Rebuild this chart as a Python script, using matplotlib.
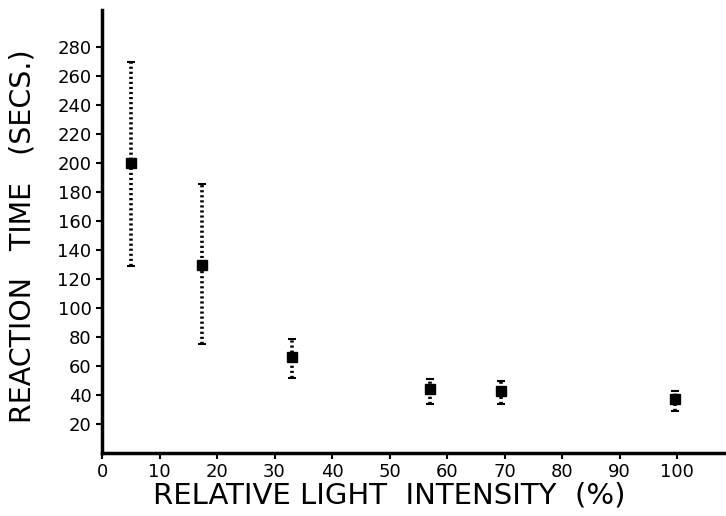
import numpy as np
import matplotlib.pyplot as plt

# values
intensity = [5.0, 17.4, 33.0, 57.0, 69.3, 99.7]
reaction = [200, 130, 66, 44, 43, 37]
err_upper = [270, 186, 79, 51, 50, 43]
err_lower = [129, 75, 52, 34, 34, 29]

x_ticks = list(range(0, 101, 10))
y_ticks = list(range(20, 281, 20))

plt.rcParams['font.family'] = ['DejaVu Sans']

fig = plt.figure(figsize=(7.26, 5.16), dpi=100)
ax = fig.add_axes([0.1405, 0.122, 0.8595, 0.859])

y = np.array(reaction)
yerr = [y - np.array(err_lower), np.array(err_upper) - y]
eb = ax.errorbar(intensity, reaction, yerr=yerr, fmt='s', color='black',
                 markersize=7, ecolor='black', elinewidth=2.6, capsize=3,
                 capthick=1.5)
eb[2][0].set_linestyle((0, (0.6, 0.8)))

ax.set_xlim(0, 108.5)
ax.set_ylim(0, 306)
ax.set_xticks(x_ticks)
ax.set_yticks(y_ticks)
ax.tick_params(direction='out', length=4, width=1.5, labelsize=13)
for s in ['top', 'right']:
    ax.spines[s].set_visible(False)
for s in ['left', 'bottom']:
    ax.spines[s].set_linewidth(2.5)

ax.set_xlabel("RELATIVE LIGHT  INTENSITY  (%)", fontsize=21, labelpad=0)
ax.xaxis.set_label_coords(0.46, -0.065)
ax.set_ylabel("REACTION   TIME   (SECS.)", fontsize=20.5)
ax.yaxis.set_label_coords(-0.105, 0.49)

plt.savefig("out.png")
